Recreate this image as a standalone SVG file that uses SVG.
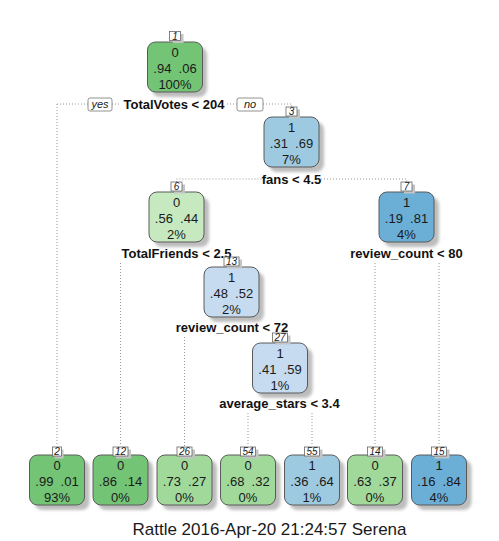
<svg xmlns="http://www.w3.org/2000/svg" width="499" height="541" viewBox="0 0 499 541">
  <defs>
    <filter id="soft" x="-20%" y="-20%" width="140%" height="140%">
      <feGaussianBlur stdDeviation="1.4"/>
    </filter>
    <style>
      text { font-family: "Liberation Sans", Arial, sans-serif; }
      .box { stroke: #5a5a5a; stroke-width: 1; }
      .shadow { fill: #bdbdbd; filter: url(#soft); }
      .g0 { fill: #74c476; }
      .g1 { fill: #a1d99b; }
      .g2 { fill: #c7e9c0; }
      .b0 { fill: #6baed6; }
      .b1 { fill: #9ecae1; }
      .b2 { fill: #c6dbef; }
      .val { font-size: 13px; fill: #1a1a1a; text-anchor: middle; white-space: pre; }
      .split { font-size: 13px; font-weight: bold; fill: #111; text-anchor: middle; }
      .num { fill: #fff; stroke: #666; stroke-width: 0.8; }
      .numsh { fill: #c4c4c4; }
      .numtxt { font-size: 10px; font-style: italic; fill: #222; text-anchor: middle; }
      .yn { fill: #fff; stroke: #777; stroke-width: 0.8; }
      .yntxt { font-size: 11px; font-style: italic; fill: #222; text-anchor: middle; }
      .edge { stroke: #999; stroke-width: 1; stroke-dasharray: 1 2; fill: none; }
      .foot { font-size: 17px; fill: #1a1a1a; text-anchor: middle; }
    </style>
  </defs>

  <rect width="499" height="541" fill="#fff"/>

  <!-- dotted branches -->
  <g id="connectors">
    <path class="edge" d="M57 104 H88 M112 104 H121 M227 104 H237 M263 104 H291.5 V107 M57 104 V446"/>
    <path class="edge" d="M176.5 182 V179 H262 M321 179 H406.5 V182"/>
    <path class="edge" d="M120.5 263 V446"/>
    <path class="edge" d="M184.5 337 V446"/>
    <path class="edge" d="M248 413 V446 M312 413 V446"/>
    <path class="edge" d="M375 263 V446 M439 263 V446"/>
  </g>

  <!-- yes / no tags on the first split -->
  <g id="tags">
    <rect class="yn" x="88" y="98" width="24" height="13" rx="2"/>
    <text class="yntxt" x="100" y="108">yes</text>
    <rect class="yn" x="237" y="98" width="26" height="13" rx="2"/>
    <text class="yntxt" x="250" y="108">no</text>
  </g>

  <!-- node 1 -->
  <g id="node1">
    <rect class="shadow" x="152" y="47" width="55" height="50" rx="8"/>
    <rect class="box g0" x="147.5" y="42" width="55" height="50" rx="8"/>
    <rect class="numsh" x="172.5" y="34" width="11" height="9"/>
    <rect class="num" x="169.5" y="31.5" width="11" height="9"/>
    <text class="numtxt" x="175" y="39.5">1</text>
    <text class="val" x="175" y="56.5">0</text>
    <text class="val" x="175" y="73">.94  .06</text>
    <text class="val" x="175" y="89">100%</text>
    <text class="split" x="174" y="109">TotalVotes &lt; 204</text>
  </g>

  <!-- node 3 -->
  <g id="node3">
    <rect class="shadow" x="269" y="122" width="55" height="50" rx="8"/>
    <rect class="box b1" x="264" y="117" width="55" height="50" rx="8"/>
    <rect class="numsh" x="289" y="109.5" width="11" height="9"/>
    <rect class="num" x="286" y="107" width="11" height="9"/>
    <text class="numtxt" x="291.5" y="115">3</text>
    <text class="val" x="291.5" y="131.5">1</text>
    <text class="val" x="291.5" y="148">.31  .69</text>
    <text class="val" x="291.5" y="164">7%</text>
    <text class="split" x="291.5" y="184">fans &lt; 4.5</text>
  </g>

  <!-- node 6 -->
  <g id="node6">
    <rect class="shadow" x="154" y="197" width="55" height="50" rx="8"/>
    <rect class="box g2" x="149" y="192" width="55" height="50" rx="8"/>
    <rect class="numsh" x="174" y="184.5" width="11" height="9"/>
    <rect class="num" x="171" y="182" width="11" height="9"/>
    <text class="numtxt" x="176.5" y="190">6</text>
    <text class="val" x="176.5" y="206.5">0</text>
    <text class="val" x="176.5" y="223">.56  .44</text>
    <text class="val" x="176.5" y="239">2%</text>
    <text class="split" x="176.5" y="258">TotalFriends &lt; 2.5</text>
  </g>

  <!-- node 7 -->
  <g id="node7">
    <rect class="shadow" x="384" y="197" width="55" height="50" rx="8"/>
    <rect class="box b0" x="379" y="192" width="55" height="50" rx="8"/>
    <rect class="numsh" x="404" y="184.5" width="11" height="9"/>
    <rect class="num" x="401" y="182" width="11" height="9"/>
    <text class="numtxt" x="406.5" y="190">7</text>
    <text class="val" x="406.5" y="206.5">1</text>
    <text class="val" x="406.5" y="223">.19  .81</text>
    <text class="val" x="406.5" y="239">4%</text>
    <text class="split" x="406.5" y="258">review_count &lt; 80</text>
  </g>

  <!-- node 13 -->
  <g id="node13">
    <rect class="shadow" x="209" y="272" width="55" height="50" rx="8"/>
    <rect class="box b2" x="204" y="267" width="55" height="50" rx="8"/>
    <rect class="numsh" x="227" y="259.5" width="15" height="9"/>
    <rect class="num" x="224" y="257" width="15" height="9"/>
    <text class="numtxt" x="231.5" y="265">13</text>
    <text class="val" x="231.5" y="281.5">1</text>
    <text class="val" x="231.5" y="298">.48  .52</text>
    <text class="val" x="231.5" y="314">2%</text>
    <text class="split" x="232" y="332">review_count &lt; 72</text>
  </g>

  <!-- node 27 -->
  <g id="node27">
    <rect class="shadow" x="257.5" y="348" width="55" height="50" rx="8"/>
    <rect class="box b2" x="252.5" y="343" width="55" height="50" rx="8"/>
    <rect class="numsh" x="275.5" y="335.5" width="15" height="9"/>
    <rect class="num" x="272.5" y="333" width="15" height="9"/>
    <text class="numtxt" x="280" y="341">27</text>
    <text class="val" x="280" y="357.5">1</text>
    <text class="val" x="280" y="374">.41  .59</text>
    <text class="val" x="280" y="390">1%</text>
    <text class="split" x="279.5" y="408">average_stars &lt; 3.4</text>
  </g>

  <!-- leaves -->
  <g id="leaf2">
    <rect class="shadow" x="34.5" y="460" width="55" height="50" rx="8"/>
    <rect class="box g0" x="29.5" y="455" width="55" height="50" rx="8"/>
    <rect class="numsh" x="54.5" y="449.5" width="9" height="9"/>
    <rect class="num" x="52.5" y="447" width="9" height="9"/>
    <text class="numtxt" x="57" y="455">2</text>
    <text class="val" x="57" y="469.5">0</text>
    <text class="val" x="57" y="486">.99  .01</text>
    <text class="val" x="57" y="502">93%</text>
  </g>
  <g id="leaf12">
    <rect class="shadow" x="98" y="460" width="55" height="50" rx="8"/>
    <rect class="box g0" x="93" y="455" width="55" height="50" rx="8"/>
    <rect class="numsh" x="116" y="449.5" width="15" height="9"/>
    <rect class="num" x="113" y="447" width="15" height="9"/>
    <text class="numtxt" x="120.5" y="455">12</text>
    <text class="val" x="120.5" y="469.5">0</text>
    <text class="val" x="120.5" y="486">.86  .14</text>
    <text class="val" x="120.5" y="502">0%</text>
  </g>
  <g id="leaf26">
    <rect class="shadow" x="162" y="460" width="55" height="50" rx="8"/>
    <rect class="box g1" x="157" y="455" width="55" height="50" rx="8"/>
    <rect class="numsh" x="180" y="449.5" width="15" height="9"/>
    <rect class="num" x="177" y="447" width="15" height="9"/>
    <text class="numtxt" x="184.5" y="455">26</text>
    <text class="val" x="184.5" y="469.5">0</text>
    <text class="val" x="184.5" y="486">.73  .27</text>
    <text class="val" x="184.5" y="502">0%</text>
  </g>
  <g id="leaf54">
    <rect class="shadow" x="225.5" y="460" width="55" height="50" rx="8"/>
    <rect class="box g1" x="220.5" y="455" width="55" height="50" rx="8"/>
    <rect class="numsh" x="243.5" y="449.5" width="15" height="9"/>
    <rect class="num" x="240.5" y="447" width="15" height="9"/>
    <text class="numtxt" x="248" y="455">54</text>
    <text class="val" x="248" y="469.5">0</text>
    <text class="val" x="248" y="486">.68  .32</text>
    <text class="val" x="248" y="502">0%</text>
  </g>
  <g id="leaf55">
    <rect class="shadow" x="289.5" y="460" width="55" height="50" rx="8"/>
    <rect class="box b1" x="284.5" y="455" width="55" height="50" rx="8"/>
    <rect class="numsh" x="307.5" y="449.5" width="15" height="9"/>
    <rect class="num" x="304.5" y="447" width="15" height="9"/>
    <text class="numtxt" x="312" y="455">55</text>
    <text class="val" x="312" y="469.5">1</text>
    <text class="val" x="312" y="486">.36  .64</text>
    <text class="val" x="312" y="502">1%</text>
  </g>
  <g id="leaf14">
    <rect class="shadow" x="352.5" y="460" width="55" height="50" rx="8"/>
    <rect class="box g1" x="347.5" y="455" width="55" height="50" rx="8"/>
    <rect class="numsh" x="370.5" y="449.5" width="15" height="9"/>
    <rect class="num" x="367.5" y="447" width="15" height="9"/>
    <text class="numtxt" x="375" y="455">14</text>
    <text class="val" x="375" y="469.5">0</text>
    <text class="val" x="375" y="486">.63  .37</text>
    <text class="val" x="375" y="502">0%</text>
  </g>
  <g id="leaf15">
    <rect class="shadow" x="416.5" y="460" width="55" height="50" rx="8"/>
    <rect class="box b0" x="411.5" y="455" width="55" height="50" rx="8"/>
    <rect class="numsh" x="434.5" y="449.5" width="15" height="9"/>
    <rect class="num" x="431.5" y="447" width="15" height="9"/>
    <text class="numtxt" x="439" y="455">15</text>
    <text class="val" x="439" y="469.5">1</text>
    <text class="val" x="439" y="486">.16  .84</text>
    <text class="val" x="439" y="502">4%</text>
  </g>

  <!-- caption -->
  <text class="foot" x="269.5" y="535">Rattle 2016-Apr-20 21:24:57 Serena</text>
</svg>
